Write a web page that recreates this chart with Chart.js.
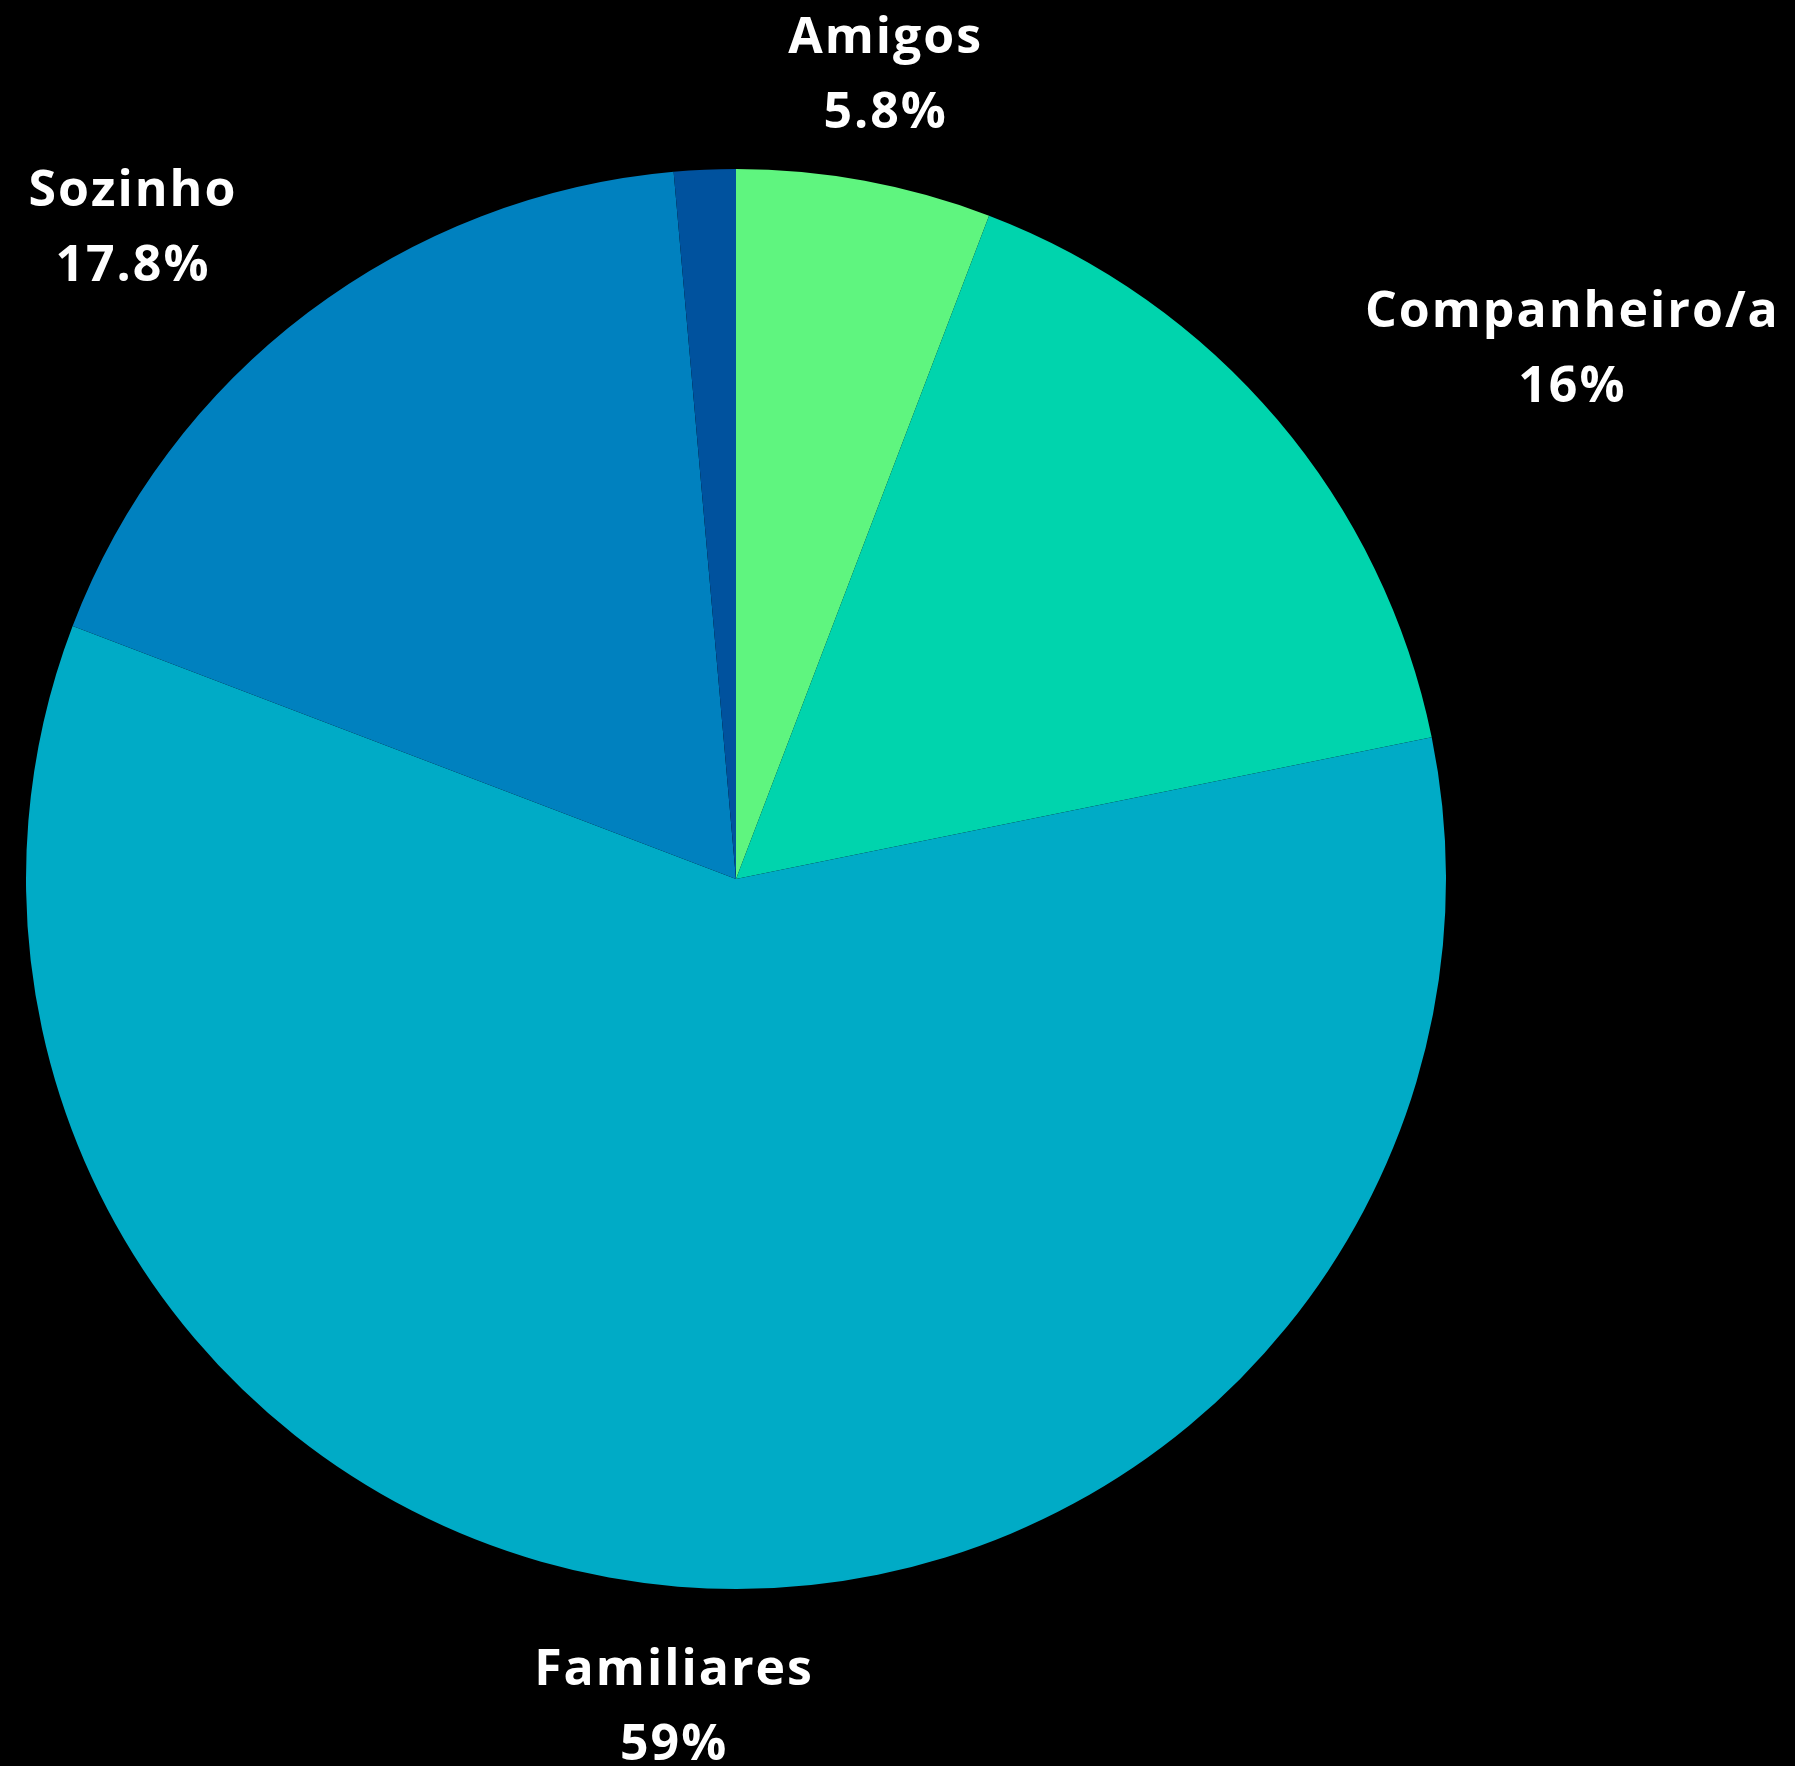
<!DOCTYPE html>
<html>
<head>
<meta charset="utf-8">
<script src="https://cdn.jsdelivr.net/npm/chart.js@4/dist/chart.umd.min.js"></script>
<style>
  html, body { margin: 0; padding: 0; background: #000; }
  #wrap { width: 1795px; height: 1766px; }
</style>
</head>
<body>
<div id="wrap"><canvas id="c" width="1795" height="1766"></canvas></div>
<script>
// ---- data ----
const categories = ["Amigos", "Companheiro/a", "Familiares", "Sozinho", ""];
const values = [5.8, 16, 59, 17.8, 1.4];
const showLabel = [true, true, true, true, false];
const sliceColors = ["#5ff57f", "#00d4ad", "#00abc6", "#0081bf", "#00529e"];
// label placement relative to each slice's outer mid point (px)
const labelShift = [[20, -128], [294, -93], [-5, 98], [-176, -107], [0, 0]];

const outsideLabels = {
  id: 'outsideLabels',
  afterDatasetsDraw(chart) {
    const ctx = chart.ctx;
    const meta = chart.getDatasetMeta(0);
    const spacing = 2;
    ctx.save();
    ctx.fillStyle = '#ffffff';
    ctx.font = 'bold 50px "Open Sans"';
    ctx.letterSpacing = spacing + 'px';
    ctx.textAlign = 'center';
    ctx.textBaseline = 'alphabetic';
    meta.data.forEach((arc, i) => {
      if (!showLabel[i]) return;
      const p = arc.getProps(['x', 'y', 'startAngle', 'endAngle', 'outerRadius'], true);
      const mid = (p.startAngle + p.endAngle) / 2;
      const ox = p.x + Math.cos(mid) * p.outerRadius;
      const oy = p.y + Math.sin(mid) * p.outerRadius;
      const tx = ox + labelShift[i][0] + spacing / 2;
      const ty = oy + labelShift[i][1];
      ctx.fillText(categories[i], tx, ty);
      ctx.fillText(values[i] + '%', tx, ty + 75);
    });
    ctx.restore();
  }
};

new Chart(document.getElementById('c'), {
  type: 'pie',
  data: {
    labels: categories,
    datasets: [{
      data: values,
      backgroundColor: sliceColors,
      borderWidth: 0
    }]
  },
  options: {
    responsive: false,
    devicePixelRatio: 1,
    animation: false,
    layout: { padding: { top: 169, bottom: 177, left: 25, right: 348 } },
    plugins: {
      legend: { display: false },
      tooltip: { enabled: false }
    }
  },
  plugins: [outsideLabels]
});
</script>
</body>
</html>
